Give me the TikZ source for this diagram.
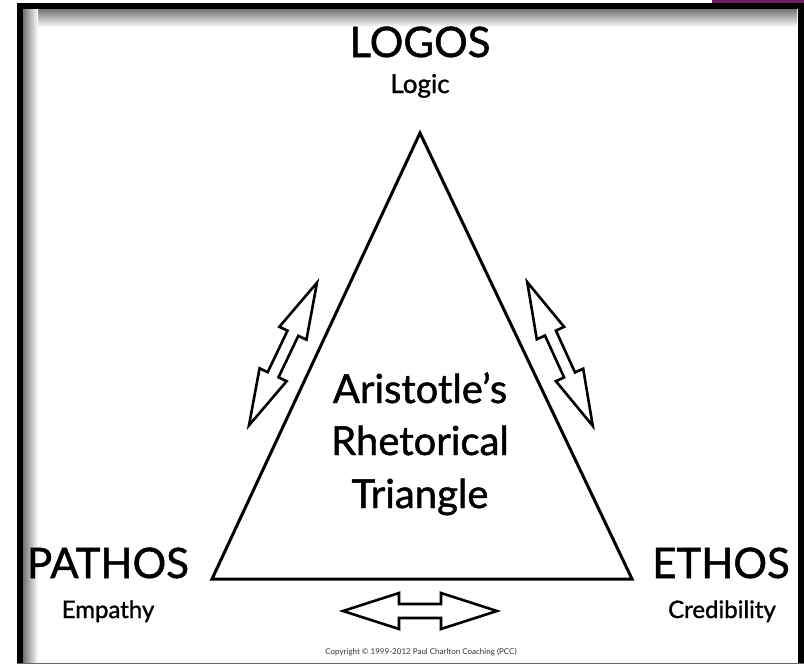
\documentclass[tikz,border=0pt]{standalone}
\usepackage{fontspec}
\setmainfont{Lato}[FakeBold=1.2]
\newfontfamily\finefont{Lato}
\definecolor{plum}{HTML}{6B2060}
\tikzset{
  edge/.style={line width=3pt, line join=miter},
  blockarrow/.style={draw=black, fill=white, line width=2.6pt, line join=miter},
  title/.style={anchor=base, inner sep=0pt, font=\fontsize{42}{42}\selectfont},
  subtitle/.style={anchor=base, inner sep=0pt, font=\fontsize{24}{24}\selectfont},
  centre/.style={anchor=base, inner sep=0pt, font=\fontsize{40}{40}\selectfont},
  notice/.style={anchor=base, inner sep=0pt, text=black!80, font=\finefont\fontsize{8}{8}\selectfont},
}
% outlined double-headed block arrow: #1 half length, #2 head length,
% #3 head half width, #4 shaft half width
\newcommand\blockdoublearrow[4]{%
  (-#1,0) -- (-#1+#2,-#3) -- (-#1+#2,-#4) -- (#1-#2,-#4) -- (#1-#2,-#3) --
  (#1,0) -- (#1-#2,#3) -- (#1-#2,#4) -- (-#1+#2,#4) -- (-#1+#2,#3) -- cycle}
\begin{document}
\begin{tikzpicture}[x=1pt,y=-1pt]
\useasboundingbox (0,0) rectangle (804,664);
\fill[white] (0,0) rectangle (804,664);
% purple tab above the frame
\fill[plum] (712,0) rectangle (804,3);
% inner shadow of the frame
\shade[top color=black!55, bottom color=white] (23,9) rectangle (797,27);
\shade[left color=black!55, right color=white] (23,9) rectangle (38,664);
% frame
\draw[line width=6pt] (20,666) -- (20,6) -- (800.5,6) -- (800.5,666);
\draw[black!60, line width=1.5pt] (17,663.5) -- (804,663.5);

% triangle
\coordinate (apex) at (420,133);
\coordinate (right) at (632,579);
\coordinate (left) at (212,579);
\draw[edge] (apex) -- (right) -- (left) -- cycle;

% two-way arrows beside each side
\coordinate (la) at (283,354);
\coordinate (ra) at (560,354);
\coordinate (ba) at (420,611);
\draw[blockarrow, shift={(la)}, rotate=64.5] \blockdoublearrow{79}{56}{15}{6};
\draw[blockarrow, shift={(ra)}, rotate=114.5] \blockdoublearrow{79}{56}{15}{6};
\draw[blockarrow, shift={(ba)}] \blockdoublearrow{77}{56}{18}{7};

% labels
\node[title] (logos) at (420,57) {LOGOS};
\node[subtitle, font=\fontsize{26}{26}\selectfont] (logic) at (420,93) {Logic};
\node[title] (pathos) at (108,578) {PATHOS};
\node[subtitle] (empathy) at (108,618) {Empathy};
\node[title] (ethos) at (721,578) {ETHOS};
\node[subtitle] (cred) at (722,618) {Credibility};
\node[centre] (l1) at (420,403) {Aristotle’s};
\node[centre] (l2) at (420,455) {Rhetorical};
\node[centre] (l3) at (420,508) {Triangle};
\node[notice] (copy) at (421,654)
  {Copyright © 1999-2012 Paul Charlton Coaching (PCC)};
\end{tikzpicture}
\end{document}
